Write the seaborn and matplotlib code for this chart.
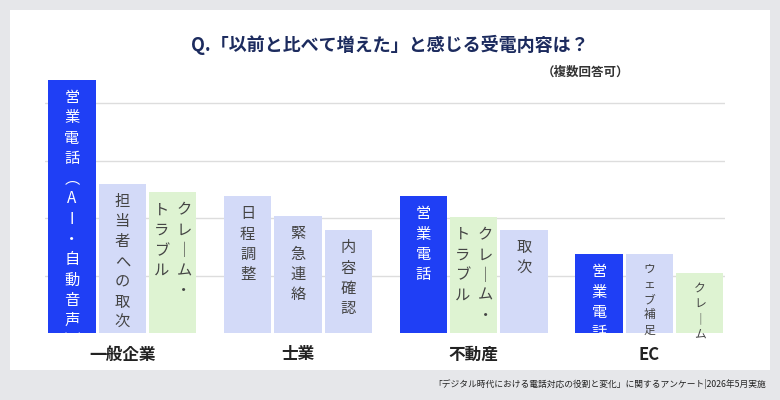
import matplotlib
matplotlib.use("Agg")
import matplotlib.pyplot as plt
import seaborn as sns
import pandas as pd
from matplotlib.patches import Rectangle

sns.set_theme(style="white")
plt.rcParams['font.family'] = ['Noto Sans CJK JP', 'DejaVu Sans']

groups = ["一般企業", "士業", "不動産", "EC"]
values = [[44.0, 26.0, 24.5],
          [23.8, 20.3, 17.9],
          [23.8, 20.2, 17.9],
          [13.7, 13.7, 10.4]]
labels = [[["営業電話︵AI・自動音声︶"], ["担当者への取次"], ["クレ｜ム・", "トラブル"]],
          [["日程調整"], ["緊急連絡"], ["内容確認"]],
          [["営業電話"], ["クレ｜ム・", "トラブル"], ["取次"]],
          [["営業電話"], ["ウェブ補足"], ["クレ｜ム"]]]
kinds = [["dark", "light", "green"],
         ["light", "light", "light"],
         ["dark", "green", "light"],
         ["dark", "light", "green"]]
colors = {"dark": "#1f3ff5", "light": "#d3daf8", "green": "#def3d2"}
tcolors = {"dark": "white", "light": "#444444", "green": "#444444"}

rows = []
for gi, g in enumerate(groups):
    for s in range(3):
        rows.append({"group": g, "slot": s, "value": values[gi][s]})
df = pd.DataFrame(rows)

fig = plt.figure(figsize=(7.8, 4.0), dpi=100)
fig.patch.set_facecolor("#e6e7ea")
fig.add_artist(Rectangle((10/780, 30/400), 760/780, 360/400, transform=fig.transFigure,
                         facecolor="white", edgecolor="none", zorder=0))
ax = fig.add_axes([45/780, 67/400, 680/780, 253/400])
ax.set_facecolor("none")
sns.barplot(data=df, x="group", y="value", hue="slot", order=groups, hue_order=[0, 1, 2],
            width=0.86, gap=0.06, legend=False, ax=ax, zorder=2)
ax.set_xlim(-0.44, 3.43)
ax.set_ylim(0, 44)
ax.set_yticks([10, 20, 30, 40])
ax.yaxis.grid(True, color="#dddddd", lw=1, zorder=0)
ax.set_axisbelow(True)
ax.tick_params(left=False, labelleft=False, bottom=False)
for sp in ax.spines.values():
    sp.set_visible(False)
ax.set_xlabel(""); ax.set_ylabel("")
ax.set_xticks(range(4))
ax.set_xticklabels(groups, fontsize=12, fontweight="bold", color="#222222")
ax.tick_params(axis="x", pad=3)

bars = [p for p in ax.patches if p.get_height() > 0]
for p in bars:
    x = p.get_x() + p.get_width() / 2
    gi = int(round(x))
    offs = [abs(x - (gi + (k - 1) * 0.2867)) for k in range(3)]
    s = offs.index(min(offs))
    kind = kinds[gi][s]
    p.set_facecolor(colors[kind]); p.set_edgecolor("none")
    cols = labels[gi][s]
    n = len(cols)
    small = (gi == 3 and s > 0)
    fs = 8.5 if small else 11
    ls = 1.2 if small else 1.25
    for ci, col in enumerate(cols):
        dx = (-(ci - (n - 1) / 2)) * 0.13 if n > 1 else 0
        ax.text(x + dx, p.get_height() - 1.6, "\n".join(col), ha="center", va="top",
                fontsize=fs, color=tcolors[kind], linespacing=ls, zorder=3)

fig.text(390/780, 1 - 45/400, "Q.「以前と比べて増えた」と感じる受電内容は？", ha="center", va="center",
         fontsize=13, fontweight="bold", color="#1c2b5e")
fig.text(585/780, 1 - 72/400, "（複数回答可）", ha="center", va="center", fontsize=9,
         fontweight="bold", color="#333333")
fig.text(766/780, 1 - 384/400, "「デジタル時代における電話対応の役割と変化」に関するアンケート|2026年5月実施",
         ha="right", va="center", fontsize=6.3, color="#222222")
fig.savefig("out.png", dpi=100, facecolor=fig.get_facecolor())
